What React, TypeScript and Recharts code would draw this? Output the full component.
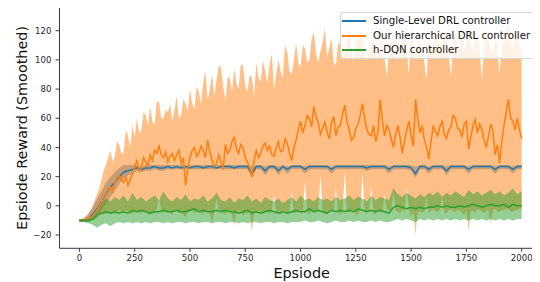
import React from 'react';
import { ComposedChart, Area, Line, XAxis, YAxis, ReferenceLine, Legend } from 'recharts';

// Blue / green series sampled every 20 episodes, orange every 10 episodes
const EPISODES_20: number[] = Array.from({ length: 101 }, (_, i) => i * 20);
const EPISODES_10: number[] = Array.from({ length: 201 }, (_, i) => i * 10);

const X_TICKS = [0, 250, 500, 750, 1000, 1250, 1500, 1750, 2000];
const Y_TICKS = [-20, 0, 20, 40, 60, 80, 100, 120];

const SERIES_NAMES = ['Single-Level DRL controller', 'Our hierarchical DRL controller', 'h-DQN controller'];
const SERIES_COLORS = ['#1f77b4', '#ff7f0e', '#2ca02c'];

// Single-Level DRL controller (every 20 episodes)
const BLUE_MEAN = [
  -10, -10, -9, -6, -2, 3, 8, 13, 16, 20,
  23, 24, 25, 26, 25, 26, 26, 27, 26, 26,
  27, 26, 27, 26, 27, 26, 27, 27, 26, 27,
  27, 26, 27, 27, 27, 26, 27, 27, 27, 22,
  27, 27, 24, 27, 27, 24, 27, 25, 27, 27,
  27, 25, 27, 27, 27, 27, 27, 25, 27, 27,
  27, 27, 27, 27, 27, 26, 27, 27, 27, 27,
  25, 27, 27, 27, 27, 26, 22, 27, 27, 25,
  27, 27, 27, 24, 27, 27, 27, 27, 25, 27,
  27, 27, 27, 27, 25, 27, 27, 27, 25, 27,
  27,
];
const BLUE_UPPER = [
  -9, -9, -6, -1, 5, 10, 16, 20, 23, 26,
  28, 28, 28, 28, 27, 28, 28, 28, 28, 28,
  28, 28, 28, 28, 28, 28, 28, 28, 28, 28,
  28, 28, 28, 28, 28, 28, 28, 28, 28, 27,
  28, 28, 27, 28, 28, 27, 28, 27, 28, 28,
  28, 27, 28, 28, 28, 28, 28, 27, 28, 28,
  28, 28, 28, 28, 28, 28, 28, 28, 28, 28,
  27, 28, 28, 28, 28, 28, 27, 28, 28, 27,
  28, 28, 28, 27, 28, 28, 28, 28, 27, 28,
  28, 28, 28, 28, 27, 28, 28, 28, 27, 28,
  28,
];
const BLUE_LOWER = [
  -11, -11, -11, -10, -8, -3, 1, 6, 10, 15,
  19, 21, 22, 24, 23, 24, 24, 25, 24, 24,
  25, 25, 25, 25, 25, 25, 25, 25, 25, 25,
  25, 25, 25, 25, 25, 25, 25, 25, 25, 19,
  25, 25, 21, 25, 25, 21, 25, 22, 25, 25,
  25, 22, 25, 25, 25, 25, 25, 22, 25, 25,
  25, 25, 25, 25, 25, 24, 25, 25, 25, 25,
  22, 25, 25, 25, 25, 24, 19, 25, 25, 22,
  25, 25, 25, 21, 25, 25, 25, 25, 22, 25,
  25, 25, 25, 25, 22, 25, 25, 25, 22, 25,
  25,
];

// Our hierarchical DRL controller (every 10 episodes)
const ORANGE_MEAN = [
  -10, -10, -10, -9, -9, -8, -7, -5, -3, 0, 3, 6, 8, 11, 13, 10, 16, 19, 21, 18,
  16, 20, 14, 18, 22, 27, 31, 24, 26, 33, 30, 27, 35, 31, 38, 36, 41, 35, 33, 37,
  30, 34, 36, 31, 35, 38, 29, 33, 14, 25, 33, 38, 40, 34, 36, 41, 38, 33, 45, 37,
  31, 27, 29, 35, 30, 25, 42, 36, 38, 44, 47, 39, 36, 42, 40, 33, 30, 26, 20, 31,
  38, 33, 36, 41, 43, 38, 41, 35, 34, 40, 44, 37, 38, 46, 43, 36, 31, 40, 45, 52,
  58, 50, 55, 62, 60, 54, 68, 61, 57, 49, 53, 58, 50, 46, 57, 61, 48, 54, 55, 63,
  69, 58, 52, 45, 47, 53, 56, 62, 70, 60, 52, 49, 48, 55, 44, 50, 73, 58, 48, 55,
  52, 46, 40, 49, 55, 47, 36, 44, 52, 58, 48, 41, 73, 60, 50, 55, 45, 40, 32, 44,
  55, 51, 48, 54, 58, 49, 46, 52, 54, 62, 60, 53, 52, 47, 56, 58, 39, 47, 55, 59,
  50, 56, 52, 45, 40, 48, 56, 51, 35, 42, 29, 44, 55, 64, 73, 60, 58, 52, 60, 52,
  46,
];
const ORANGE_UPPER = [
  -9, -9, -8, -7, -5, -3, 0, 4, 8, 12, 18, 24, 28, 33, 38, 30, 34, 44, 42, 36,
  36, 52, 48, 40, 55, 47, 60, 50, 52, 64, 62, 55, 68, 58, 55, 72, 71, 60, 60, 66,
  64, 70, 58, 66, 75, 60, 62, 73, 70, 65, 80, 70, 66, 82, 78, 70, 85, 92, 72, 80,
  90, 75, 86, 96, 95, 82, 72, 88, 88, 78, 94, 84, 80, 97, 96, 82, 78, 90, 88, 75,
  98, 88, 85, 100, 92, 84, 97, 104, 80, 90, 100, 92, 88, 110, 105, 92, 90, 100, 112, 98,
  95, 110, 108, 98, 100, 114, 119, 104, 98, 106, 112, 122, 102, 108, 115, 98, 96, 112, 110, 104,
  104, 112, 122, 106, 100, 115, 112, 120, 118, 104, 99, 108, 110, 116, 104, 100, 124, 112, 102, 88,
  108, 115, 118, 104, 100, 110, 115, 122, 106, 90, 125, 110, 104, 114, 112, 106, 98, 86, 118, 108,
  108, 116, 122, 110, 104, 120, 114, 106, 88, 112, 120, 108, 110, 118, 104, 112, 126, 110, 106, 114,
  116, 108, 86, 112, 122, 114, 108, 104, 118, 110, 90, 110, 114, 120, 128, 112, 108, 116, 120, 110,
  105,
];
const ORANGE_LOWER = [
  -11, -11, -11, -10, -10, -10, -9, -9, -8, -7, -6, -6, -5, -4, -4, -5, -6, -4, -3, -4,
  -5, -3, -4, -5, -6, -4, -3, -5, -5, -3, -4, -6, -6, -4, -4, -2, 6, -4, -5, -3,
  -4, -5, -6, -3, -3, -5, -5, -6, -8, -4, -4, -3, -5, -4, -3, -5, -6, -3, -4, -5,
  -12, -4, 5, -3, -4, -5, -6, -3, -3, -6, -14, -4, -4, -3, -7, -5, -5, -4, -18, -5,
  -4, -3, -5, -6, -3, -4, -6, -3, 8, -4, -5, -6, -3, -4, -6, -3, 10, -5, -5, -3,
  -3, -5, 17, -4, -6, -3, -5, -4, -3, 21, -4, -6, -5, -3, -3, -4, 12, -5, -6, -4,
  24, -4, -5, -3, -3, -6, -6, -3, 22, -4, -5, -3, 14, -5, -6, -3, -4, -5, 8, -3,
  -3, -4, 10, -3, -4, -5, -3, -4, 13, -2, -8, -3, -20, -4, -4, -5, -3, 6, -5, -3,
  -2, -4, -4, -3, 6, -5, -5, -3, -2, -4, -4, -3, -3, -5, -6, -3, -17, -4, -3, -5,
  -2, -3, -4, -5, -3, -4, -12, -3, -2, -4, -4, -3, -3, -2, -2, -4, -4, -3, -3, -2,
  -2,
];

// h-DQN controller (every 20 episodes)
const GREEN_MEAN = [
  -10, -10, -10, -9, -6, -5, -4, -5, -4, -5,
  -4, -5, -3, -4, -3, -4, -5, -4, -4, -3,
  -4, -4, -3, -4, -4, -3, -2, -4, -3, -4,
  -4, -3, -4, -3, -4, -4, -5, -4, -3, -5,
  -4, -5, -4, -3, -4, -5, -4, -5, -4, -3,
  -4, -4, -2, -4, -3, -4, -5, -3, -4, -3,
  -4, -3, -4, -2, -3, -4, -3, -4, -3, -4,
  -5, -1, 0, -1, -2, -1, -2, -1, -2, -1,
  -1, 0, -1, 0, -1, -1, 0, -1, 0, 1,
  0, -1, 0, 1, 0, 0, 1, -1, 1, 0,
  0,
];
const GREEN_UPPER = [
  -9, -9, -9, -7, -2, 2, 5, 3, 6, 4,
  7, 3, 9, 4, 6, 3, 5, 7, 4, 10,
  5, 3, 6, 4, 8, 3, 5, 4, 7, 3,
  5, 9, 4, 3, 6, 2, 5, 4, 7, 3,
  5, 2, 6, 4, 3, 5, 2, 4, 6, 3,
  7, 4, 5, 3, 6, 4, 5, 3, 6, 4,
  5, 7, 4, 6, 5, 3, 7, 4, 6, 5,
  4, 12, 8, 6, 9, 7, 5, 8, 6, 9,
  7, 10, 6, 9, 7, 10, 8, 6, 11, 8,
  10, 7, 9, 11, 8, 10, 7, 9, 12, 8,
  10,
];
const GREEN_LOWER = [
  -11, -11, -12, -13, -15, -13, -12, -14, -12, -11,
  -12, -11, -12, -11, -12, -11, -12, -11, -11, -12,
  -11, -12, -11, -11, -12, -11, -11, -12, -11, -11,
  -12, -11, -11, -12, -11, -11, -12, -11, -12, -11,
  -11, -12, -11, -11, -12, -11, -11, -12, -11, -11,
  -11, -10, -11, -11, -10, -11, -12, -11, -10, -11,
  -11, -10, -11, -10, -11, -11, -10, -11, -10, -11,
  -11, -10, -9, -10, -9, -10, -11, -9, -10, -9,
  -10, -9, -10, -9, -10, -9, -10, -9, -10, -9,
  -10, -9, -10, -9, -10, -9, -10, -9, -10, -9,
  -9,
];

const blueData = EPISODES_20.map((ep, i) => ({ ep, mean: BLUE_MEAN[i], band: [BLUE_LOWER[i], BLUE_UPPER[i]] }));
const orangeData = EPISODES_10.map((ep, i) => ({ ep, mean: ORANGE_MEAN[i], band: [ORANGE_LOWER[i], ORANGE_UPPER[i]] }));
const greenData = EPISODES_20.map((ep, i) => ({ ep, mean: GREEN_MEAN[i], band: [GREEN_LOWER[i], GREEN_UPPER[i]] }));

const FONT = '"DejaVu Sans", sans-serif';
const AXIS_COLOR = '#3a3a3a';
const Y_MIN = -29.1;
const Y_MAX = 135.9;

const fmt = (v: number) => (v < 0 ? '\u2212' + Math.abs(v) : String(v));

const LegendBox = () => (
  <div
    style={{
      position: 'relative',
      boxSizing: 'border-box',
      width: 197,
      height: 47,
      background: 'rgba(255,255,255,0.8)',
      border: '1px solid #d6d6d6',
      borderRadius: 3,
      fontFamily: FONT,
      fontSize: 10.2,
      lineHeight: '14px',
      color: '#111',
    }}
  >
    {SERIES_NAMES.map((name, i) => (
      <div
        key={name}
        style={{
          position: 'absolute',
          left: 1,
          top: 1 + i * 14.4,
          height: 14,
          display: 'flex',
          alignItems: 'center',
          whiteSpace: 'nowrap',
        }}
      >
        <span style={{ display: 'inline-block', width: 24, height: 2, background: SERIES_COLORS[i], marginRight: 7 }} />
        <span>{name}</span>
      </div>
    ))}
  </div>
);

export default function App() {
  return (
    <div style={{ position: 'relative', left: -8, top: -8, width: 540, height: 282, overflow: 'hidden' }}>
      <ComposedChart
        width={560}
        height={282}
        margin={{ top: 7.5, right: 16.2, bottom: 0, left: 0 }}
        style={{ fontFamily: FONT }}
      >
        <XAxis
          dataKey="ep"
          type="number"
          domain={[-90, 2100]}
          ticks={X_TICKS}
          allowDataOverflow
          height={33.7}
          stroke={AXIS_COLOR}
          tickSize={3.5}
          tickMargin={3.5}
          tick={{ fontSize: 8.6, fill: '#262626', fontFamily: FONT }}
          label={(p: any) => {
            const vb = p.viewBox || { x: 59.5, width: 484 };
            return (
              <text x={vb.x + vb.width / 2} y={273} textAnchor="middle" dominantBaseline="central" fontSize={14.4} fontFamily={FONT} fill="#111">
                Epsiode
              </text>
            );
          }}
        />
        <YAxis
          type="number"
          domain={[Y_MIN, Y_MAX]}
          ticks={Y_TICKS}
          allowDataOverflow
          width={59.5}
          stroke={AXIS_COLOR}
          tickSize={4}
          tickMargin={4}
          tickFormatter={fmt}
          tick={{ fontSize: 8.6, fill: '#262626', fontFamily: FONT }}
          label={(p: any) => {
            const vb = p.viewBox || { y: 7.5, height: 240.8 };
            const cy = vb.y + vb.height / 2;
            return (
              <text x={22.5} y={cy} transform={`rotate(-90 22.5 ${cy})`} textAnchor="middle" dominantBaseline="central" fontSize={14.4} fontFamily={FONT} fill="#111">
                Epsiode Reward (Smoothed)
              </text>
            );
          }}
        />
        <ReferenceLine y={Y_MAX} stroke={AXIS_COLOR} strokeWidth={1} ifOverflow="extendDomain" />
        <Area data={blueData} dataKey="band" type="linear" stroke="none" fill={SERIES_COLORS[0]} fillOpacity={0.5} isAnimationActive={false} activeDot={false} />
        <Area data={orangeData} dataKey="band" type="linear" stroke="none" fill={SERIES_COLORS[1]} fillOpacity={0.5} isAnimationActive={false} activeDot={false} />
        <Area data={greenData} dataKey="band" type="linear" stroke="none" fill={SERIES_COLORS[2]} fillOpacity={0.5} isAnimationActive={false} activeDot={false} />
        <Line data={blueData} dataKey="mean" type="linear" stroke={SERIES_COLORS[0]} strokeWidth={1.5} dot={false} isAnimationActive={false} />
        <Line data={orangeData} dataKey="mean" type="linear" stroke={SERIES_COLORS[1]} strokeWidth={1.5} dot={false} isAnimationActive={false} />
        <Line data={greenData} dataKey="mean" type="linear" stroke={SERIES_COLORS[2]} strokeWidth={1.5} dot={false} isAnimationActive={false} />
        <Legend
          layout="vertical"
          verticalAlign="middle"
          align="center"
          content={() => <LegendBox />}
          wrapperStyle={{ position: 'absolute', left: 340, top: 12.3, width: 197, height: 47, margin: 0, padding: 0 }}
        />
      </ComposedChart>
    </div>
  );
}
